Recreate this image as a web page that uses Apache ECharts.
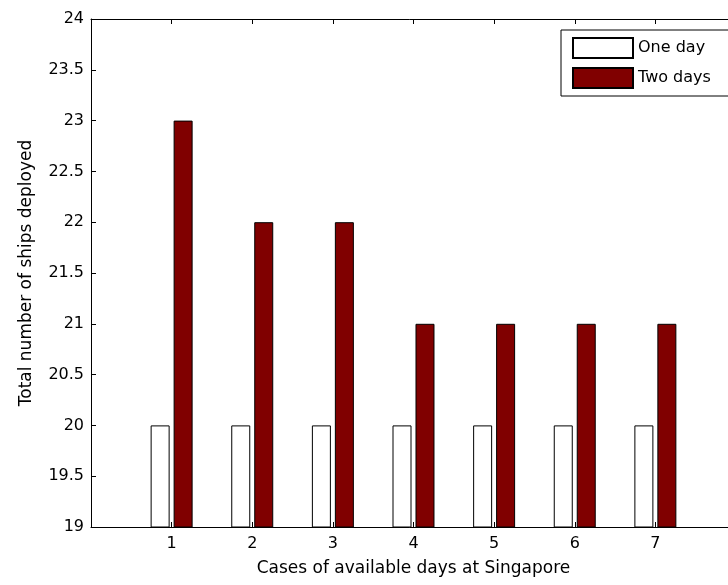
<!DOCTYPE html>
<html>
<head>
<meta charset="utf-8">
<script src="https://cdn.jsdelivr.net/npm/echarts@6/dist/echarts.min.js"></script>
<style>
  html, body { margin: 0; padding: 0; background: #ffffff; }
  #chart { width: 728px; height: 585px; }
</style>
</head>
<body>
<div id="chart"></div>
<script>
// Cases 1..7 and ships deployed for each planning horizon
const cases = [1, 2, 3, 4, 5, 6, 7];
const oneDay = [20, 20, 20, 20, 20, 20, 20];
const twoDays = [23, 22, 22, 21, 21, 21, 21];
const yTicks = { min: 19, max: 24, step: 0.5 };

const font = 'DejaVu Sans';
const chart = echarts.init(document.getElementById('chart'), null, { renderer: 'canvas' });

const pairs = (vals) => cases.map((c, i) => [c, vals[i]]);

const xCommon = {
  type: 'value',
  min: 0,
  max: 8,
  interval: 1,
  splitLine: { show: false },
  axisLine: { show: true, onZero: false, lineStyle: { color: '#000', width: 1 } },
  axisTick: { show: true, inside: true, length: 5, lineStyle: { color: '#000' } }
};

chart.setOption({
  backgroundColor: '#ffffff',
  animation: false,
  textStyle: { fontFamily: font },
  // the axes box runs a little past the right edge of the canvas
  grid: {
    left: 91, top: 19, width: 645, height: 508,
    containLabel: false, outerBoundsMode: 'none', show: false
  },
  legend: {
    left: 561,
    top: 30,
    orient: 'vertical',
    icon: 'rect',
    itemWidth: 60,
    itemHeight: 20,
    itemGap: 8,
    padding: [7, 24, 7, 11],
    backgroundColor: '#ffffff',
    borderColor: '#000000',
    borderWidth: 1,
    borderRadius: 0,
    textStyle: { fontFamily: font, fontSize: 16, color: '#000' },
    data: ['One day', 'Two days']
  },
  xAxis: [
    Object.assign({}, xCommon, {
      position: 'bottom',
      name: 'Cases of available days at Singapore',
      nameLocation: 'middle',
      nameGap: 33,
      nameTextStyle: { fontFamily: font, fontSize: 17, color: '#000' },
      axisLabel: {
        show: true,
        margin: 9,
        fontFamily: font,
        fontSize: 16,
        color: '#000',
        formatter: (v) => (v >= 1 && v <= 7 ? String(v) : '')
      }
    }),
    Object.assign({}, xCommon, {
      position: 'top',
      axisLabel: { show: false }
    })
  ],
  yAxis: [{
    type: 'value',
    min: yTicks.min,
    max: yTicks.max,
    interval: yTicks.step,
    name: 'Total number of ships deployed',
    nameLocation: 'middle',
    nameGap: 56,
    nameTextStyle: { fontFamily: font, fontSize: 17, color: '#000' },
    splitLine: { show: false },
    axisLine: { show: true, onZero: false, lineStyle: { color: '#000', width: 1 } },
    axisTick: { show: true, inside: true, length: 5, lineStyle: { color: '#000' } },
    axisLabel: { margin: 7, fontFamily: font, fontSize: 16, color: '#000' }
  }],
  series: [
    {
      name: 'One day',
      type: 'bar',
      xAxisIndex: 0,
      barWidth: 19,
      barGap: '21%',
      data: pairs(oneDay),
      itemStyle: { color: '#ffffff', borderColor: '#000000', borderWidth: 1 }
    },
    {
      name: 'Two days',
      type: 'bar',
      xAxisIndex: 0,
      barWidth: 19,
      barGap: '21%',
      data: pairs(twoDays),
      itemStyle: { color: '#800000', borderColor: '#000000', borderWidth: 1 }
    }
  ]
});
</script>
</body>
</html>
